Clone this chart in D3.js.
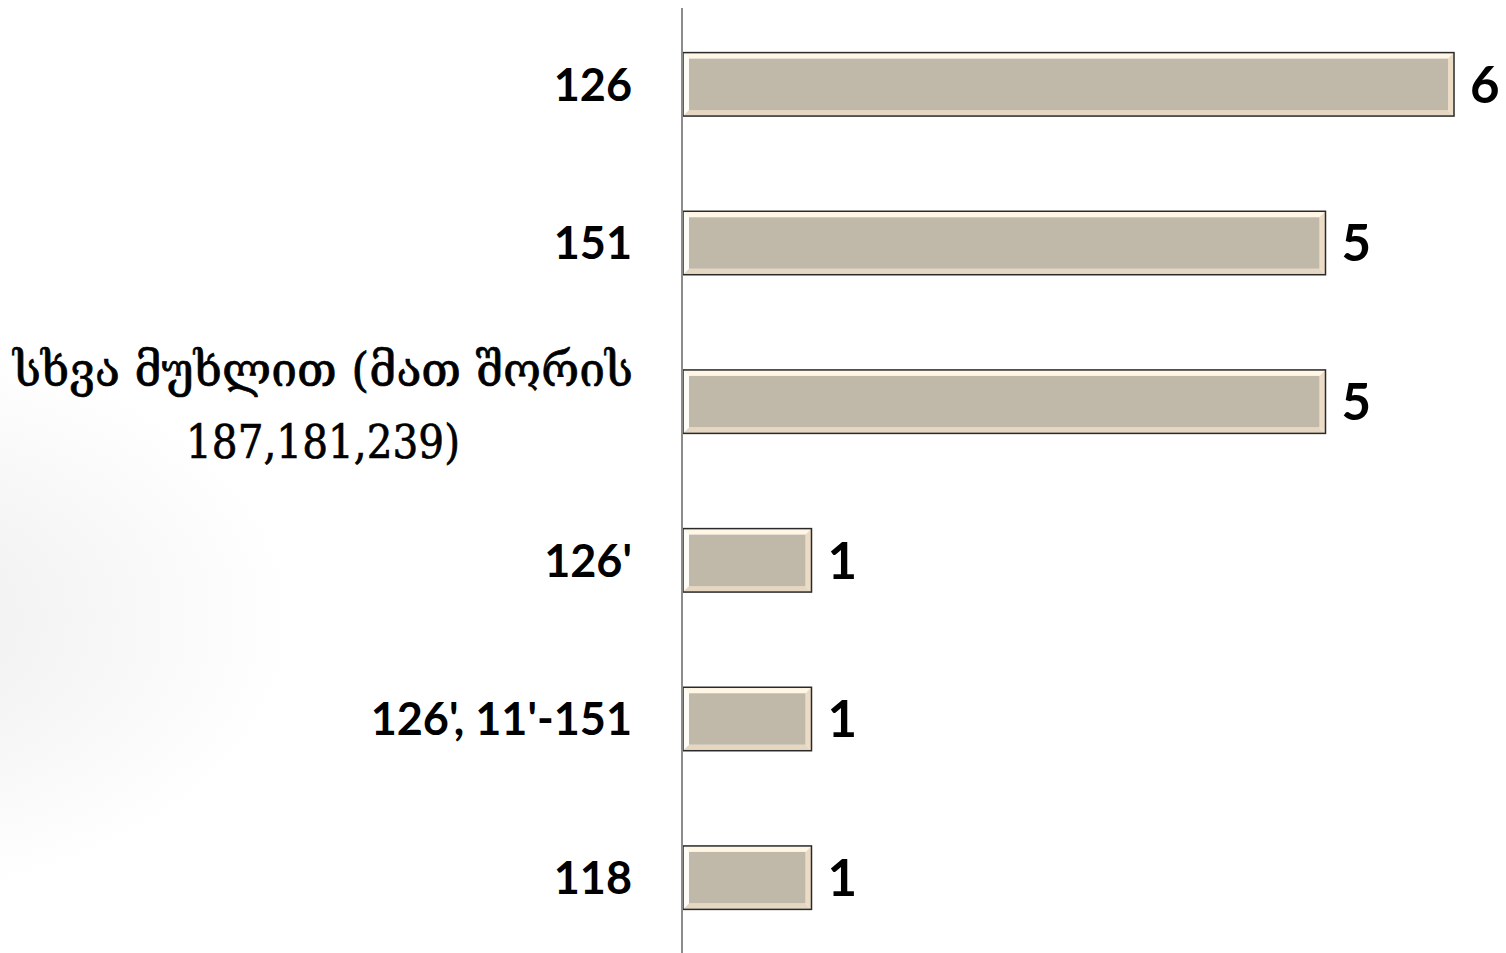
<!DOCTYPE html>
<html>
<head>
<meta charset="utf-8">
<script src="https://cdn.jsdelivr.net/npm/d3@7"></script>
<style>
  html, body { margin: 0; padding: 0; background: #fff; overflow: hidden; }
</style>
</head>
<body>
<div id="graph"></div>
<script>
// data
var categories = ["126", "151", "სხვა მუხლით (მათ შორის|187,181,239)", "126'", "126', 11'-151", "118"];
var values = [6, 5, 5, 1, 1, 1];

const width = 1506, height = 953;

var svg = d3.select("#graph").append("svg")
    .attr("width", width)
    .attr("height", height);

// faint gray shading on the left edge
var defs = svg.append("defs");
var grad = defs.append("radialGradient").attr("id", "bg")
    .attr("cx", "-0.1").attr("cy", "0.65").attr("r", "0.3");
grad.append("stop").attr("offset", "0").attr("stop-color", "#ececec");
grad.append("stop").attr("offset", "1").attr("stop-color", "#ffffff");
svg.append("rect").attr("width", width).attr("height", height).attr("fill", "url(#bg)");

var x = d3.scaleLinear().domain([0, 6]).range([683, 1454]);
var y = d3.scaleBand().domain(categories).range([5, 957]).paddingInner(0.6).paddingOuter(0.3);

// bars with bevel
var bev = 6;
var rows = categories.map((c, i) => ({cat: c, v: values[i]}));
var bars = svg.append("g").selectAll("g")
    .data(rows)
    .enter().append("g");

bars.each(function(d) {
  var g = d3.select(this);
  var x0 = x(0), x1 = x(d.v), y0 = y(d.cat), y1 = y0 + y.bandwidth();
  var pts = (a) => a.map(p => p.join(",")).join(" ");
  // top
  g.append("polygon").attr("fill", "#fff6e6")
    .attr("points", pts([[x0, y0], [x1, y0], [x1 - bev, y0 + bev], [x0 + bev, y0 + bev]]));
  // left
  g.append("polygon").attr("fill", "#fffdf8")
    .attr("points", pts([[x0, y0], [x0 + bev, y0 + bev], [x0 + bev, y1 - bev], [x0, y1]]));
  // bottom
  g.append("polygon").attr("fill", "#e6d7c2")
    .attr("points", pts([[x0, y1], [x0 + bev, y1 - bev], [x1 - bev, y1 - bev], [x1, y1]]));
  // right
  g.append("polygon").attr("fill", "#ecdcc6")
    .attr("points", pts([[x1, y0], [x1, y1], [x1 - bev, y1 - bev], [x1 - bev, y0 + bev]]));
  g.append("rect")
    .attr("x", x0 + bev).attr("y", y0 + bev)
    .attr("width", x1 - x0 - 2 * bev).attr("height", y1 - y0 - 2 * bev)
    .attr("fill", "#c0b8a8");
  g.append("rect")
    .attr("x", x0).attr("y", y0)
    .attr("width", x1 - x0).attr("height", y1 - y0)
    .attr("fill", "none").attr("stroke", "#2a2a2a").attr("stroke-width", 1.5);
});

// axis line
svg.append("line")
    .attr("x1", 682).attr("x2", 682)
    .attr("y1", 8).attr("y2", height)
    .attr("stroke", "#8c8c8c").attr("stroke-width", 2);

// value labels
svg.append("g").selectAll("text")
    .data(rows)
    .enter().append("text")
    .attr("x", d => x(d.v) + 16)
    .attr("y", d => y(d.cat) + y.bandwidth() / 2)
    .attr("dy", "0.36em")
    .attr("font-family", "Lato, 'Open Sans', sans-serif")
    .attr("font-weight", "bold")
    .attr("font-size", 51)
    .attr("fill", "#000")
    .text(d => d.v);

// category labels
var labels = svg.append("g");
var fitWidths = [620, 274];
categories.forEach(function(c) {
  var cy = y(c) + y.bandwidth() / 2;
  if (c.indexOf("|") >= 0) {
    var lines = c.split("|");
    var t = labels.append("text")
        .attr("text-anchor", "middle")
        .attr("font-family", "'DejaVu Serif', serif")
        .attr("font-size", 47)
        .attr("fill", "#000")
        .attr("stroke", "#000")
        .attr("stroke-width", 0.7);
    lines.forEach(function(l, i) {
      t.append("tspan").attr("x", 323).attr("y", cy - 16 + i * 72)
        .attr("textLength", fitWidths[i])
        .attr("lengthAdjust", "spacingAndGlyphs")
        .text(l);
    });
  } else {
    labels.append("text")
        .attr("x", 632)
        .attr("y", cy)
        .attr("dy", "0.36em")
        .attr("text-anchor", "end")
        .attr("font-family", "Lato, 'Open Sans', sans-serif")
        .attr("font-weight", "bold")
        .attr("font-size", 45)
        .attr("fill", "#000")
        .text(c);
  }
});
</script>
</body>
</html>
